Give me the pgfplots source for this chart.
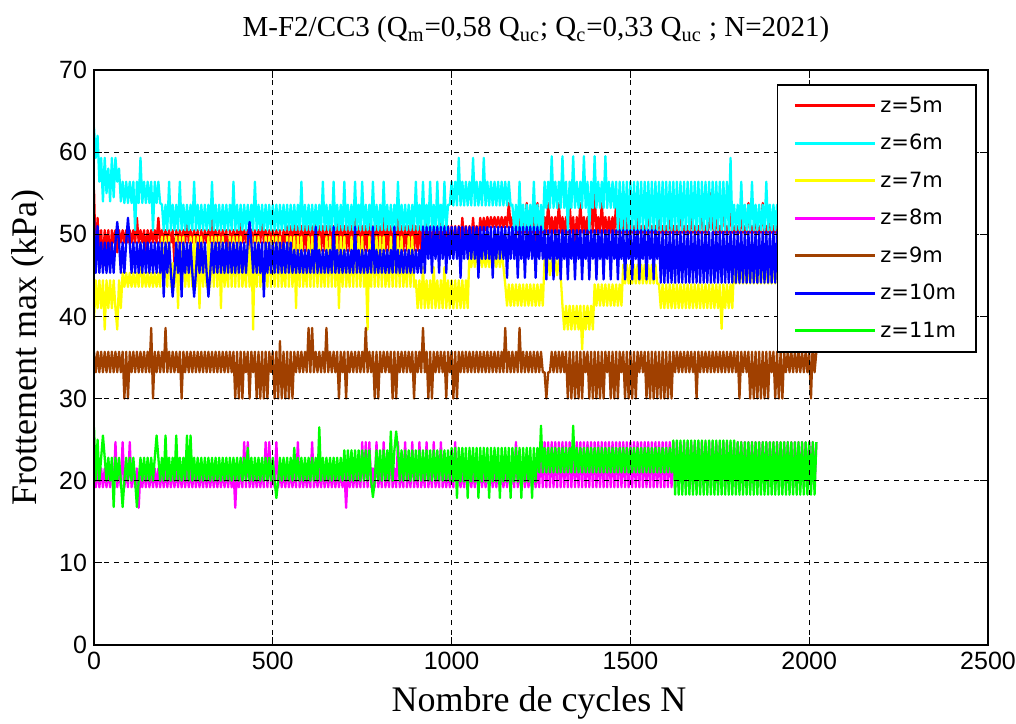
\documentclass[border=0pt]{standalone}
\usepackage{fontspec}
\setmainfont{Liberation Serif}
\newfontfamily\sansf{Liberation Sans}
\newfontfamily\legf{DejaVu Sans}
\usepackage{pgfplots}
\pgfplotsset{compat=1.18}
\definecolor{mbrown}{RGB}{160,64,0}
\definecolor{mred}{RGB}{255,0,0}
\definecolor{mcyan}{RGB}{0,255,255}
\definecolor{myellow}{RGB}{255,255,0}
\definecolor{mmagenta}{RGB}{255,0,255}
\definecolor{mblue}{RGB}{0,0,255}
\definecolor{mgreen}{RGB}{0,255,0}
\begin{document}
\begin{tikzpicture}
\begin{axis}[
 scale only axis, width=447pt, height=287.5pt,
 xmin=0, xmax=2500, ymin=0, ymax=70,
 xtick={0,500,...,2500}, ytick={0,10,...,70},
 grid=major, major grid style={black, dash pattern=on 2.5pt off 2.5pt, line width=0.55pt},
 axis on top,
 axis line style={line width=0.6pt},
 tick style={black, line width=0.6pt}, major tick length=4pt,
 tick label style={font=\sansf\fontsize{12.5}{15}\selectfont},
 /pgf/number format/assume math mode=true,
 /pgf/number format/1000 sep={},
 legend style={at={(1,1)}, anchor=north east, xshift=-5.5pt, yshift=-7pt, draw=black, line width=0.8pt, fill=white, font=\legf\fontsize{10.5}{12}\selectfont, row sep=5.5pt, inner xsep=8pt, inner ysep=4pt},
 legend cell align=left,
 legend image code/.code={\draw[#1, line width=1.5pt] (0pt,0pt) -- (40pt,0pt);},
 every axis plot/.append style={line width=1.15pt, line join=round},
]
\coordinate (ll) at (rel axis cs:0,0);
\coordinate (ur) at (rel axis cs:1,1);
\coordinate (tt) at (rel axis cs:0.5,1);
\coordinate (bb) at (rel axis cs:0.5,0);
\coordinate (lm) at (rel axis cs:0,0.517);
% z=5m
\addplot[mred] table[header=false, row sep=\\, x expr=\coordindex*5, y index=0]{
55.4\\ 46.5\\ 52.0\\ 47.0\\ 50.5\\ 46.0\\ 50.5\\ 47.8\\ 50.5\\ 46.5\\ 50.5\\ 49.0\\ 50.5\\ 47.8\\ 50.5\\ 49.0\\ 50.5\\ 49.0\\ 50.5\\ 49.0\\
50.5\\ 49.0\\ 50.5\\ 49.0\\ 52.0\\ 49.0\\ 50.5\\ 49.0\\ 50.5\\ 47.8\\ 50.5\\ 49.0\\ 50.5\\ 49.0\\ 50.5\\ 49.0\\ 52.0\\ 49.0\\ 50.5\\ 49.0\\
50.5\\ 49.0\\ 50.5\\ 49.0\\ 50.5\\ 46.5\\ 50.5\\ 49.0\\ 50.5\\ 49.0\\ 50.5\\ 49.0\\ 52.0\\ 49.0\\ 50.5\\ 49.0\\ 50.5\\ 49.0\\ 50.5\\ 47.8\\
50.5\\ 49.0\\ 50.5\\ 49.0\\ 50.5\\ 49.0\\ 52.0\\ 49.0\\ 50.5\\ 49.0\\ 50.5\\ 49.0\\ 50.5\\ 49.0\\ 50.5\\ 46.5\\ 50.5\\ 49.0\\ 50.5\\ 49.0\\
50.5\\ 49.0\\ 52.0\\ 49.0\\ 50.5\\ 49.0\\ 50.5\\ 47.8\\ 50.5\\ 49.0\\ 50.5\\ 49.0\\ 50.5\\ 49.0\\ 52.0\\ 49.0\\ 50.5\\ 49.0\\ 50.5\\ 49.0\\
50.5\\ 49.0\\ 50.5\\ 49.0\\ 50.5\\ 47.8\\ 50.5\\ 49.0\\ 51.0\\ 48.0\\ 51.0\\ 48.0\\ 52.0\\ 48.0\\ 51.0\\ 48.0\\ 51.0\\ 48.0\\ 51.0\\ 48.0\\
51.0\\ 48.0\\ 51.0\\ 48.0\\ 52.0\\ 48.0\\ 51.0\\ 48.0\\ 51.0\\ 48.0\\ 51.0\\ 46.5\\ 51.0\\ 48.0\\ 51.0\\ 48.0\\ 52.0\\ 48.0\\ 51.0\\ 48.0\\
51.0\\ 48.0\\ 51.0\\ 48.0\\ 51.0\\ 48.0\\ 52.0\\ 48.0\\ 51.0\\ 48.0\\ 51.0\\ 48.0\\ 51.0\\ 48.0\\ 53.0\\ 48.0\\ 51.0\\ 48.0\\ 51.0\\ 48.0\\
51.0\\ 48.0\\ 52.0\\ 48.0\\ 51.0\\ 48.0\\ 51.0\\ 48.0\\ 51.0\\ 48.0\\ 52.0\\ 48.0\\ 51.0\\ 48.0\\ 51.0\\ 48.0\\ 51.0\\ 48.0\\ 52.0\\ 48.0\\
51.0\\ 48.0\\ 51.0\\ 48.0\\ 51.0\\ 48.0\\ 52.0\\ 48.0\\ 51.0\\ 48.0\\ 51.0\\ 48.0\\ 51.0\\ 48.0\\ 52.0\\ 48.0\\ 51.0\\ 48.0\\ 51.0\\ 48.0\\
51.0\\ 48.0\\ 51.0\\ 48.0\\ 51.0\\ 49.0\\ 52.0\\ 49.0\\ 51.0\\ 49.0\\ 51.0\\ 49.0\\ 52.0\\ 49.0\\ 51.0\\ 49.0\\ 52.0\\ 50.5\\ 52.0\\ 50.5\\
52.1\\ 50.9\\ 52.1\\ 50.9\\ 52.1\\ 50.9\\ 52.1\\ 50.9\\ 52.1\\ 50.9\\ 52.1\\ 50.9\\ 53.8\\ 50.9\\ 52.1\\ 50.9\\ 52.1\\ 50.2\\ 53.8\\ 50.2\\
52.1\\ 50.2\\ 53.8\\ 50.2\\ 52.1\\ 50.2\\ 52.1\\ 48.0\\ 53.8\\ 50.2\\ 52.1\\ 50.2\\ 52.1\\ 50.2\\ 53.8\\ 50.2\\ 52.1\\ 50.2\\ 52.1\\ 50.2\\
53.8\\ 50.2\\ 52.1\\ 50.2\\ 52.1\\ 50.2\\ 53.8\\ 50.2\\ 52.1\\ 48.5\\ 52.1\\ 50.2\\ 53.8\\ 50.2\\ 52.1\\ 50.2\\ 52.1\\ 50.2\\ 53.8\\ 50.2\\
55.0\\ 50.2\\ 52.1\\ 50.2\\ 53.8\\ 50.2\\ 52.1\\ 50.2\\ 52.1\\ 50.2\\ 52.1\\ 50.2\\ 53.8\\ 50.2\\ 52.1\\ 50.2\\ 52.1\\ 50.2\\ 52.1\\ 50.2\\
51.0\\ 50.2\\ 51.0\\ 50.2\\ 52.1\\ 50.2\\ 51.0\\ 50.2\\ 51.0\\ 50.2\\ 53.8\\ 50.2\\ 51.0\\ 50.2\\ 51.0\\ 50.2\\ 52.1\\ 50.2\\ 51.0\\ 50.2\\
51.0\\ 50.2\\ 52.1\\ 50.2\\ 51.0\\ 50.2\\ 51.0\\ 50.2\\ 53.8\\ 50.2\\ 51.0\\ 50.2\\ 51.0\\ 50.2\\ 52.1\\ 50.2\\ 51.0\\ 50.2\\ 51.0\\ 50.2\\
53.8\\ 50.2\\ 51.0\\ 50.2\\ 51.0\\ 55.0\\ 51.0\\ 50.2\\ 52.1\\ 50.2\\ 51.0\\ 50.2\\ 55.0\\ 50.2\\ 51.0\\ 50.2\\ 53.8\\ 50.2\\ 51.0\\ 50.2\\
51.0\\ 50.2\\ 52.1\\ 50.2\\ 51.0\\ 50.2\\ 53.8\\ 50.2\\ 51.0\\ 50.2\\ 52.1\\ 50.2\\ 51.0\\ 50.2\\ 53.8\\ 50.2\\ 51.0\\ 50.2\\ 52.1\\ 50.2\\
51.0\\ 50.2\\ 51.0\\ 50.2\\ 52.1\\ 50.2\\ 51.0\\ 50.2\\ 51.0\\ 50.2\\ 51.0\\ 50.2\\ 52.1\\ 50.2\\ 51.0\\ 50.2\\ 51.0\\ 50.2\\ 51.0\\ 50.2\\
51.0\\ 50.2\\ 51.0\\ 50.2\\ 51.0\\
};
\addlegendentry{z=5m}
% z=6m
\addplot[mcyan] table[header=false, row sep=\\, x expr=\coordindex*5, y index=0]{
63.0\\ 59.3\\ 62.0\\ 56.4\\ 59.3\\ 54.0\\ 59.3\\ 55.0\\ 58.0\\ 54.0\\ 59.3\\ 54.5\\ 59.3\\ 56.4\\ 58.0\\ 54.0\\ 56.4\\ 53.8\\ 56.4\\ 53.8\\
56.4\\ 53.8\\ 56.4\\ 50.5\\ 56.4\\ 53.8\\ 59.3\\ 53.8\\ 56.4\\ 53.8\\ 56.4\\ 53.8\\ 56.4\\ 50.5\\ 56.4\\ 53.8\\ 56.4\\ 53.8\\ 53.6\\ 50.5\\
53.6\\ 50.5\\ 56.4\\ 50.5\\ 53.6\\ 50.5\\ 53.6\\ 50.5\\ 56.4\\ 50.5\\ 53.6\\ 50.5\\ 53.6\\ 50.5\\ 53.6\\ 50.5\\ 56.4\\ 50.5\\ 53.6\\ 50.5\\
53.6\\ 50.5\\ 53.6\\ 50.5\\ 53.6\\ 50.5\\ 56.4\\ 50.5\\ 53.6\\ 50.5\\ 53.6\\ 50.5\\ 53.6\\ 50.5\\ 53.6\\ 50.5\\ 53.6\\ 50.5\\ 56.4\\ 50.5\\
53.6\\ 50.5\\ 53.6\\ 50.5\\ 53.6\\ 50.5\\ 53.6\\ 50.5\\ 53.6\\ 50.5\\ 56.4\\ 50.5\\ 53.6\\ 50.5\\ 53.6\\ 50.5\\ 53.6\\ 50.5\\ 53.6\\ 50.5\\
53.6\\ 50.5\\ 53.6\\ 50.5\\ 53.6\\ 50.5\\ 53.6\\ 50.5\\ 53.6\\ 50.5\\ 53.6\\ 50.5\\ 53.6\\ 50.5\\ 53.6\\ 50.5\\ 56.4\\ 50.5\\ 53.6\\ 50.5\\
53.6\\ 50.5\\ 53.6\\ 50.5\\ 53.6\\ 50.5\\ 53.6\\ 50.5\\ 56.4\\ 50.5\\ 53.6\\ 50.5\\ 53.6\\ 50.5\\ 56.4\\ 50.5\\ 53.6\\ 50.5\\ 53.6\\ 50.5\\
56.4\\ 50.5\\ 53.6\\ 50.5\\ 53.6\\ 50.5\\ 56.4\\ 50.5\\ 53.6\\ 50.5\\ 56.4\\ 50.5\\ 53.6\\ 50.5\\ 53.6\\ 50.5\\ 56.4\\ 50.5\\ 53.6\\ 50.5\\
53.6\\ 50.5\\ 56.4\\ 50.5\\ 53.6\\ 50.5\\ 53.6\\ 50.5\\ 53.6\\ 50.5\\ 56.4\\ 50.5\\ 53.6\\ 50.5\\ 53.6\\ 50.5\\ 53.6\\ 50.5\\ 53.6\\ 50.5\\
56.4\\ 50.5\\ 53.6\\ 50.5\\ 56.4\\ 50.5\\ 53.6\\ 50.5\\ 56.4\\ 50.5\\ 53.6\\ 50.5\\ 56.4\\ 50.5\\ 53.6\\ 50.5\\ 56.4\\ 50.5\\ 53.6\\ 53.6\\
56.4\\ 53.5\\ 56.4\\ 53.5\\ 59.3\\ 53.5\\ 56.4\\ 53.5\\ 56.4\\ 53.5\\ 56.4\\ 53.5\\ 59.3\\ 53.5\\ 56.4\\ 53.5\\ 56.4\\ 53.5\\ 59.3\\ 53.5\\
56.4\\ 53.5\\ 56.4\\ 53.5\\ 56.4\\ 53.5\\ 56.4\\ 53.5\\ 56.4\\ 53.5\\ 56.4\\ 53.5\\ 56.4\\ 53.5\\ 53.6\\ 50.5\\ 53.6\\ 50.5\\ 56.4\\ 50.5\\
53.6\\ 50.5\\ 53.6\\ 50.5\\ 53.6\\ 50.5\\ 56.4\\ 50.5\\ 53.6\\ 50.5\\ 53.6\\ 50.5\\ 56.4\\ 53.2\\ 56.4\\ 53.2\\ 59.5\\ 53.2\\ 56.4\\ 53.2\\
56.4\\ 53.2\\ 59.5\\ 53.2\\ 56.4\\ 50.5\\ 56.4\\ 53.2\\ 59.5\\ 53.2\\ 56.4\\ 53.2\\ 56.4\\ 53.2\\ 59.5\\ 53.2\\ 56.4\\ 50.5\\ 56.4\\ 53.2\\
59.5\\ 53.2\\ 56.4\\ 53.2\\ 56.4\\ 53.2\\ 59.5\\ 53.2\\ 56.4\\ 53.2\\ 56.4\\ 53.2\\ 56.4\\ 50.5\\ 56.4\\ 50.5\\ 56.4\\ 50.5\\ 56.4\\ 50.5\\
56.4\\ 50.5\\ 56.4\\ 50.5\\ 56.4\\ 50.5\\ 56.4\\ 50.5\\ 56.4\\ 50.5\\ 56.4\\ 50.5\\ 56.4\\ 50.5\\ 56.4\\ 50.5\\ 56.4\\ 50.5\\ 56.4\\ 50.5\\
56.4\\ 50.5\\ 56.4\\ 50.5\\ 56.4\\ 50.5\\ 56.4\\ 50.5\\ 56.4\\ 50.5\\ 56.4\\ 50.5\\ 56.4\\ 50.5\\ 56.4\\ 50.5\\ 56.4\\ 50.5\\ 56.4\\ 50.5\\
56.4\\ 50.5\\ 56.4\\ 50.5\\ 56.4\\ 50.5\\ 56.4\\ 50.5\\ 56.4\\ 50.5\\ 56.4\\ 50.5\\ 56.4\\ 50.5\\ 56.4\\ 50.5\\ 59.3\\ 50.5\\ 53.6\\ 50.5\\
53.6\\ 50.5\\ 56.4\\ 50.5\\ 53.6\\ 50.5\\ 53.6\\ 50.5\\ 56.4\\ 50.5\\ 53.6\\ 50.5\\ 53.6\\ 50.5\\ 53.6\\ 50.5\\ 56.4\\ 50.5\\ 53.6\\ 50.5\\
53.6\\ 50.5\\ 53.6\\ 50.5\\ 56.4\\ 50.5\\ 53.6\\ 50.5\\ 53.6\\ 50.5\\ 53.6\\ 50.5\\ 53.6\\ 50.5\\ 53.6\\ 50.5\\ 53.6\\ 50.5\\ 53.6\\ 50.5\\
53.6\\ 50.5\\ 53.6\\ 50.5\\ 53.6\\
};
\addlegendentry{z=6m}
% z=7m
\addplot[myellow] table[header=false, row sep=\\, x expr=\coordindex*5, y index=0]{
39.5\\ 44.4\\ 41.0\\ 44.4\\ 41.0\\ 44.4\\ 38.4\\ 44.4\\ 41.0\\ 44.4\\ 41.0\\ 44.4\\ 41.0\\ 38.4\\ 44.4\\ 41.0\\ 45.3\\ 43.6\\ 45.3\\ 43.6\\
45.3\\ 43.6\\ 45.3\\ 43.6\\ 45.3\\ 43.6\\ 49.0\\ 43.6\\ 45.3\\ 43.6\\ 45.3\\ 43.6\\ 45.3\\ 43.6\\ 45.3\\ 43.6\\ 45.3\\ 43.6\\ 49.7\\ 43.6\\
49.7\\ 43.6\\ 49.7\\ 43.6\\ 46.5\\ 43.6\\ 49.7\\ 41.0\\ 49.7\\ 43.6\\ 49.7\\ 43.6\\ 46.5\\ 43.6\\ 49.7\\ 43.6\\ 49.7\\ 43.6\\ 49.7\\ 41.0\\
49.7\\ 43.6\\ 46.5\\ 43.6\\ 49.7\\ 43.6\\ 49.7\\ 43.6\\ 49.7\\ 43.6\\ 49.7\\ 41.0\\ 49.7\\ 43.6\\ 46.5\\ 43.6\\ 49.7\\ 43.6\\ 49.7\\ 43.6\\
49.7\\ 43.6\\ 49.7\\ 43.6\\ 46.5\\ 43.6\\ 49.7\\ 43.6\\ 49.7\\ 38.4\\ 49.7\\ 43.6\\ 49.7\\ 43.6\\ 46.5\\ 43.6\\ 49.7\\ 43.6\\ 49.7\\ 43.6\\
49.7\\ 43.6\\ 49.7\\ 43.6\\ 49.7\\ 43.6\\ 46.5\\ 43.6\\ 49.7\\ 43.6\\ 49.7\\ 43.6\\ 49.7\\ 41.0\\ 49.7\\ 43.6\\ 49.7\\ 43.6\\ 46.5\\ 43.6\\
49.7\\ 43.6\\ 49.7\\ 43.6\\ 49.7\\ 43.6\\ 49.7\\ 43.6\\ 46.5\\ 43.6\\ 49.7\\ 43.6\\ 49.7\\ 43.6\\ 49.7\\ 43.6\\ 49.7\\ 41.0\\ 49.7\\ 43.6\\
49.7\\ 43.6\\ 46.5\\ 43.6\\ 49.7\\ 43.6\\ 49.7\\ 43.6\\ 49.7\\ 43.6\\ 49.7\\ 43.6\\ 46.5\\ 38.4\\ 49.7\\ 43.6\\ 49.7\\ 43.6\\ 49.7\\ 43.6\\
49.7\\ 43.6\\ 49.7\\ 43.6\\ 46.5\\ 43.6\\ 49.7\\ 43.6\\ 49.7\\ 43.6\\ 49.7\\ 43.6\\ 49.7\\ 43.6\\ 46.5\\ 43.6\\ 49.7\\ 43.6\\ 49.7\\ 43.6\\
44.4\\ 41.0\\ 44.4\\ 41.0\\ 46.0\\ 41.0\\ 44.4\\ 41.0\\ 44.4\\ 41.0\\ 46.0\\ 41.0\\ 44.4\\ 41.0\\ 44.4\\ 41.0\\ 46.0\\ 41.0\\ 44.4\\ 41.0\\
44.4\\ 41.0\\ 44.4\\ 41.0\\ 44.4\\ 41.0\\ 44.4\\ 41.0\\ 44.4\\ 41.0\\ 48.0\\ 46.0\\ 48.0\\ 46.0\\ 48.0\\ 46.0\\ 48.0\\ 46.0\\ 48.0\\ 46.0\\
48.0\\ 46.0\\ 48.0\\ 46.0\\ 48.0\\ 46.0\\ 48.0\\ 46.0\\ 48.0\\ 46.0\\ 43.9\\ 41.3\\ 43.9\\ 41.3\\ 43.9\\ 41.3\\ 43.9\\ 41.3\\ 43.9\\ 41.3\\
43.9\\ 41.3\\ 43.9\\ 41.3\\ 43.9\\ 41.3\\ 43.9\\ 41.3\\ 43.9\\ 41.3\\ 43.9\\ 41.3\\ 47.0\\ 45.0\\ 47.0\\ 45.0\\ 47.0\\ 45.0\\ 47.0\\ 45.0\\
47.0\\ 45.0\\ 41.3\\ 38.4\\ 41.3\\ 38.4\\ 41.3\\ 38.4\\ 41.3\\ 38.4\\ 41.3\\ 38.4\\ 41.3\\ 36.0\\ 41.3\\ 38.4\\ 41.3\\ 38.4\\ 41.3\\ 38.4\\
43.9\\ 41.3\\ 43.9\\ 41.3\\ 43.9\\ 41.3\\ 43.9\\ 41.3\\ 43.9\\ 41.3\\ 43.9\\ 41.3\\ 43.9\\ 41.3\\ 43.9\\ 41.3\\ 46.3\\ 44.0\\ 46.3\\ 44.0\\
46.3\\ 44.0\\ 46.3\\ 44.0\\ 46.3\\ 44.0\\ 46.3\\ 44.0\\ 46.3\\ 44.0\\ 46.3\\ 44.0\\ 46.3\\ 44.0\\ 46.3\\ 44.0\\ 43.9\\ 41.0\\ 43.9\\ 41.0\\
43.9\\ 41.0\\ 43.9\\ 41.0\\ 43.9\\ 41.0\\ 43.9\\ 41.0\\ 43.9\\ 41.0\\ 43.9\\ 41.0\\ 43.9\\ 41.0\\ 43.9\\ 41.0\\ 43.9\\ 41.0\\ 43.9\\ 41.0\\
43.9\\ 41.0\\ 43.9\\ 41.0\\ 43.9\\ 41.0\\ 43.9\\ 41.0\\ 43.9\\ 41.0\\ 43.9\\ 38.5\\ 43.9\\ 41.0\\ 43.9\\ 41.0\\ 43.9\\ 41.0\\ 46.3\\ 44.0\\
46.3\\ 44.0\\ 46.3\\ 44.0\\ 46.3\\ 44.0\\ 46.3\\ 44.0\\ 46.3\\ 44.0\\ 46.3\\ 44.0\\ 46.3\\ 44.0\\ 46.3\\ 44.0\\ 46.3\\ 44.0\\ 46.3\\ 44.0\\
46.3\\ 44.0\\ 46.3\\ 44.0\\ 46.3\\ 44.0\\ 46.3\\ 44.0\\ 46.3\\ 44.0\\ 46.3\\ 44.0\\ 46.3\\ 44.0\\ 46.3\\ 44.0\\ 46.3\\ 44.0\\ 46.3\\ 44.0\\
46.3\\ 44.0\\ 46.3\\ 44.0\\ 46.3\\
};
\addlegendentry{z=7m}
% z=8m
\addplot[mmagenta] table[header=false, row sep=\\, x expr=\coordindex*5, y index=0]{
24.7\\ 19.2\\ 21.5\\ 19.2\\ 21.5\\ 19.2\\ 21.5\\ 19.2\\ 21.5\\ 19.2\\ 21.5\\ 19.2\\ 24.7\\ 19.2\\ 21.5\\ 19.2\\ 24.7\\ 19.2\\ 21.5\\ 19.2\\
24.7\\ 19.2\\ 21.5\\ 19.2\\ 21.5\\ 16.7\\ 21.5\\ 19.2\\ 21.5\\ 19.2\\ 21.5\\ 19.2\\ 21.5\\ 19.2\\ 21.5\\ 19.2\\ 21.5\\ 19.2\\ 21.5\\ 19.2\\
21.5\\ 19.2\\ 21.5\\ 19.2\\ 21.5\\ 19.2\\ 21.5\\ 19.2\\ 21.5\\ 19.2\\ 21.5\\ 19.2\\ 21.5\\ 19.2\\ 21.5\\ 19.2\\ 21.5\\ 19.2\\ 21.5\\ 19.2\\
21.5\\ 19.2\\ 21.5\\ 19.2\\ 21.5\\ 19.2\\ 21.5\\ 19.2\\ 21.5\\ 19.2\\ 21.5\\ 19.2\\ 21.5\\ 19.2\\ 21.5\\ 19.2\\ 21.5\\ 19.2\\ 21.5\\ 16.7\\
21.5\\ 19.2\\ 21.5\\ 19.2\\ 24.7\\ 19.2\\ 24.7\\ 19.2\\ 21.5\\ 19.2\\ 21.5\\ 19.2\\ 21.5\\ 19.2\\ 21.5\\ 19.2\\ 24.7\\ 19.2\\ 24.7\\ 19.2\\
21.5\\ 19.2\\ 24.7\\ 19.2\\ 21.5\\ 19.2\\ 21.5\\ 19.2\\ 21.5\\ 19.2\\ 21.5\\ 19.2\\ 21.5\\ 19.2\\ 24.7\\ 19.2\\ 21.5\\ 19.2\\ 21.5\\ 19.2\\
21.5\\ 19.2\\ 24.7\\ 19.2\\ 21.5\\ 19.2\\ 21.5\\ 19.2\\ 21.5\\ 19.2\\ 21.5\\ 19.2\\ 21.5\\ 19.2\\ 21.5\\ 19.2\\ 21.5\\ 19.2\\ 21.5\\ 19.2\\
21.5\\ 16.7\\ 21.5\\ 19.2\\ 21.5\\ 19.2\\ 21.5\\ 19.2\\ 21.5\\ 19.2\\ 24.7\\ 19.2\\ 24.7\\ 19.2\\ 24.7\\ 19.2\\ 21.5\\ 19.2\\ 24.7\\ 19.2\\
21.5\\ 19.2\\ 24.7\\ 19.2\\ 21.5\\ 19.2\\ 24.7\\ 19.2\\ 21.5\\ 19.2\\ 24.7\\ 19.2\\ 21.5\\ 19.2\\ 24.7\\ 19.2\\ 21.5\\ 19.2\\ 24.7\\ 19.2\\
21.5\\ 19.2\\ 24.7\\ 19.2\\ 21.5\\ 19.2\\ 24.7\\ 19.2\\ 21.5\\ 19.2\\ 24.7\\ 19.2\\ 21.5\\ 19.2\\ 24.7\\ 19.2\\ 21.5\\ 19.2\\ 21.5\\ 19.2\\
21.5\\ 19.2\\ 24.7\\ 19.2\\ 21.5\\ 19.2\\ 21.5\\ 19.2\\ 21.5\\ 19.2\\ 21.5\\ 19.2\\ 21.5\\ 19.2\\ 21.5\\ 19.2\\ 21.5\\ 19.2\\ 21.5\\ 19.2\\
21.5\\ 19.2\\ 21.5\\ 19.2\\ 21.5\\ 19.2\\ 21.5\\ 19.2\\ 21.5\\ 19.2\\ 21.5\\ 19.2\\ 21.5\\ 19.2\\ 21.5\\ 19.2\\ 24.7\\ 19.2\\ 21.5\\ 19.2\\
21.5\\ 19.2\\ 21.5\\ 19.2\\ 21.5\\ 19.2\\ 21.5\\ 19.2\\ 21.5\\ 19.2\\ 24.7\\ 19.2\\ 24.7\\ 19.2\\ 24.7\\ 19.2\\ 24.7\\ 19.2\\ 24.7\\ 19.2\\
24.7\\ 19.2\\ 24.7\\ 19.2\\ 24.7\\ 19.2\\ 24.7\\ 19.2\\ 24.7\\ 19.2\\ 24.7\\ 19.2\\ 24.7\\ 19.2\\ 24.7\\ 19.2\\ 24.7\\ 19.2\\ 24.7\\ 19.2\\
24.7\\ 19.2\\ 24.7\\ 19.2\\ 24.7\\ 19.2\\ 24.7\\ 19.2\\ 24.7\\ 19.2\\ 24.7\\ 19.2\\ 24.7\\ 19.2\\ 24.7\\ 19.2\\ 24.7\\ 19.2\\ 24.7\\ 19.2\\
24.7\\ 19.2\\ 24.7\\ 19.2\\ 24.7\\ 19.2\\ 24.7\\ 19.2\\ 24.7\\ 19.2\\ 24.7\\ 19.2\\ 24.7\\ 19.2\\ 24.7\\ 19.2\\ 24.7\\ 19.2\\ 24.7\\ 19.2\\
24.7\\ 19.2\\ 24.7\\ 19.2\\ 24.7\\ 19.2\\ 24.7\\ 19.2\\ 24.7\\ 19.2\\ 24.7\\ 19.2\\ 24.7\\ 19.2\\ 24.7\\ 19.2\\ 24.7\\ 19.2\\ 24.7\\ 19.2\\
24.7\\ 19.2\\ 24.7\\ 19.2\\ 24.7\\ 19.2\\ 24.7\\ 19.2\\ 24.7\\ 19.2\\ 24.7\\ 19.2\\ 24.7\\ 19.2\\ 24.7\\ 19.2\\ 24.7\\ 19.2\\ 24.7\\ 19.2\\
24.7\\ 19.2\\ 24.7\\ 19.2\\ 24.7\\ 19.2\\ 24.7\\ 19.2\\ 24.7\\ 19.2\\ 24.7\\ 19.2\\ 24.7\\ 19.2\\ 24.7\\ 19.2\\ 24.7\\ 19.2\\ 24.7\\ 19.2\\
24.7\\ 19.2\\ 24.7\\ 19.2\\ 24.7\\ 19.2\\ 24.7\\ 19.2\\ 24.7\\ 19.2\\ 24.7\\ 19.2\\ 24.7\\ 19.2\\ 24.7\\ 19.2\\ 24.7\\ 19.2\\ 24.7\\ 19.2\\
24.7\\ 19.2\\ 24.7\\ 19.2\\ 24.7\\
};
\addlegendentry{z=8m}
% z=9m
\addplot[mbrown] table[header=false, row sep=\\, x expr=\coordindex*5, y index=0]{
35.7\\ 33.2\\ 35.7\\ 33.2\\ 35.7\\ 33.2\\ 35.7\\ 33.2\\ 35.7\\ 33.2\\ 35.7\\ 33.2\\ 35.7\\ 33.2\\ 35.7\\ 33.2\\ 35.7\\ 30.0\\ 35.7\\ 30.0\\
35.7\\ 33.2\\ 35.7\\ 33.2\\ 35.7\\ 33.2\\ 35.7\\ 33.2\\ 35.7\\ 33.2\\ 35.7\\ 33.2\\ 38.6\\ 30.0\\ 35.7\\ 33.2\\ 35.7\\ 33.2\\ 35.7\\ 33.2\\
38.6\\ 33.2\\ 35.7\\ 33.2\\ 35.7\\ 33.2\\ 35.7\\ 33.2\\ 35.7\\ 30.0\\ 35.7\\ 33.2\\ 35.7\\ 33.2\\ 35.7\\ 33.2\\ 35.7\\ 33.2\\ 35.7\\ 33.2\\
35.7\\ 33.2\\ 35.7\\ 33.2\\ 35.7\\ 33.2\\ 35.7\\ 33.2\\ 35.7\\ 33.2\\ 35.7\\ 33.2\\ 35.7\\ 33.2\\ 35.7\\ 33.2\\ 35.7\\ 33.2\\ 35.7\\ 30.0\\
35.7\\ 30.0\\ 35.7\\ 30.0\\ 35.7\\ 33.2\\ 35.7\\ 30.0\\ 35.7\\ 33.2\\ 35.7\\ 30.0\\ 35.7\\ 30.0\\ 35.7\\ 30.0\\ 35.7\\ 30.0\\ 35.7\\ 33.2\\
35.7\\ 30.0\\ 35.7\\ 30.0\\ 37.0\\ 30.0\\ 35.7\\ 30.0\\ 35.7\\ 30.0\\ 35.7\\ 30.0\\ 35.7\\ 33.2\\ 35.7\\ 33.2\\ 35.7\\ 33.2\\ 35.7\\ 33.2\\
38.6\\ 33.2\\ 38.6\\ 33.2\\ 35.7\\ 33.2\\ 35.7\\ 33.2\\ 35.7\\ 33.2\\ 38.6\\ 33.2\\ 35.7\\ 33.2\\ 35.7\\ 33.2\\ 35.7\\ 30.0\\ 35.7\\ 33.2\\
35.7\\ 30.0\\ 35.7\\ 33.2\\ 35.7\\ 33.2\\ 35.7\\ 33.2\\ 35.7\\ 33.2\\ 35.7\\ 33.2\\ 38.6\\ 33.2\\ 35.7\\ 33.2\\ 35.7\\ 30.0\\ 35.7\\ 30.0\\
35.7\\ 33.2\\ 35.7\\ 33.2\\ 35.7\\ 33.2\\ 35.7\\ 30.0\\ 35.7\\ 30.0\\ 35.7\\ 33.2\\ 35.7\\ 33.2\\ 35.7\\ 33.2\\ 35.7\\ 33.2\\ 35.7\\ 30.0\\
35.7\\ 33.2\\ 35.7\\ 33.2\\ 38.6\\ 33.2\\ 35.7\\ 30.0\\ 35.7\\ 30.0\\ 35.7\\ 33.2\\ 35.7\\ 33.2\\ 35.7\\ 33.2\\ 35.7\\ 30.0\\ 35.7\\ 33.2\\
35.7\\ 30.0\\ 35.7\\ 30.0\\ 35.7\\ 33.2\\ 35.7\\ 33.2\\ 35.7\\ 33.2\\ 35.7\\ 33.2\\ 35.7\\ 33.2\\ 35.7\\ 33.2\\ 35.7\\ 33.2\\ 35.7\\ 33.2\\
35.7\\ 33.2\\ 35.7\\ 33.2\\ 35.7\\ 33.2\\ 35.7\\ 33.2\\ 35.7\\ 33.2\\ 38.6\\ 33.2\\ 35.7\\ 33.2\\ 35.7\\ 33.2\\ 35.7\\ 33.2\\ 38.6\\ 33.2\\
35.7\\ 33.2\\ 35.7\\ 33.2\\ 35.7\\ 33.2\\ 35.7\\ 33.2\\ 35.7\\ 33.2\\ 35.7\\ 33.2\\ 33.2\\ 30.0\\ 33.2\\ 33.2\\ 35.7\\ 33.2\\ 35.7\\ 33.2\\
35.7\\ 33.2\\ 35.7\\ 33.2\\ 35.7\\ 30.0\\ 35.7\\ 30.0\\ 35.7\\ 30.0\\ 35.7\\ 30.0\\ 35.7\\ 30.0\\ 35.7\\ 33.2\\ 35.7\\ 30.0\\ 35.7\\ 30.0\\
35.7\\ 30.0\\ 35.7\\ 30.0\\ 35.7\\ 30.0\\ 35.7\\ 33.2\\ 35.7\\ 30.0\\ 35.7\\ 30.0\\ 35.7\\ 30.0\\ 35.7\\ 33.2\\ 35.7\\ 30.0\\ 35.7\\ 30.0\\
35.7\\ 30.0\\ 35.7\\ 30.0\\ 35.7\\ 33.2\\ 35.7\\ 33.2\\ 35.7\\ 30.0\\ 35.7\\ 30.0\\ 35.7\\ 30.0\\ 35.7\\ 30.0\\ 35.7\\ 30.0\\ 35.7\\ 30.0\\
35.7\\ 30.0\\ 35.7\\ 30.0\\ 35.7\\ 33.2\\ 35.7\\ 33.2\\ 35.7\\ 33.2\\ 35.7\\ 33.2\\ 35.7\\ 33.2\\ 35.7\\ 33.2\\ 35.7\\ 30.0\\ 35.7\\ 33.2\\
35.7\\ 33.2\\ 35.7\\ 33.2\\ 35.7\\ 33.2\\ 35.7\\ 33.2\\ 35.7\\ 33.2\\ 35.7\\ 33.2\\ 35.7\\ 33.2\\ 35.7\\ 33.2\\ 35.7\\ 33.2\\ 35.7\\ 33.2\\
35.7\\ 30.0\\ 35.7\\ 33.2\\ 35.7\\ 33.2\\ 35.7\\ 30.0\\ 35.7\\ 30.0\\ 35.7\\ 30.0\\ 35.7\\ 30.0\\ 35.7\\ 30.0\\ 35.7\\ 30.0\\ 35.7\\ 33.2\\
35.7\\ 30.0\\ 35.7\\ 30.0\\ 35.7\\ 30.0\\ 35.7\\ 33.2\\ 35.7\\ 33.2\\ 35.7\\ 33.2\\ 35.7\\ 33.2\\ 35.7\\ 33.2\\ 35.7\\ 33.2\\ 35.7\\ 33.2\\
35.7\\ 30.0\\ 37.0\\ 33.2\\ 35.7\\
};
\addlegendentry{z=9m}
% z=10m
\addplot[mblue] table[header=false, row sep=\\, x expr=\coordindex*5, y index=0]{
52.0\\ 45.3\\ 51.0\\ 45.3\\ 49.0\\ 45.3\\ 49.0\\ 45.3\\ 49.0\\ 45.3\\ 49.0\\ 45.3\\ 49.0\\ 51.5\\ 49.0\\ 45.3\\ 49.0\\ 45.3\\ 49.0\\ 52.0\\
49.0\\ 45.3\\ 49.0\\ 45.3\\ 49.0\\ 45.3\\ 49.0\\ 45.3\\ 49.0\\ 45.3\\ 49.0\\ 45.3\\ 49.0\\ 45.3\\ 49.0\\ 45.3\\ 49.0\\ 45.3\\ 49.0\\ 42.4\\
49.0\\ 45.3\\ 49.0\\ 45.3\\ 42.4\\ 45.3\\ 49.0\\ 45.3\\ 49.0\\ 42.4\\ 49.0\\ 45.3\\ 49.0\\ 45.3\\ 49.0\\ 45.3\\ 42.4\\ 45.3\\ 49.0\\ 45.3\\
49.0\\ 45.3\\ 49.0\\ 45.3\\ 42.4\\ 45.3\\ 49.0\\ 45.3\\ 49.0\\ 45.3\\ 49.0\\ 45.3\\ 49.0\\ 45.3\\ 49.0\\ 45.3\\ 49.0\\ 45.3\\ 49.0\\ 45.3\\
49.0\\ 45.3\\ 49.0\\ 45.3\\ 49.0\\ 45.3\\ 49.0\\ 51.5\\ 49.0\\ 45.3\\ 49.0\\ 45.3\\ 49.0\\ 45.3\\ 49.0\\ 42.4\\ 49.0\\ 45.3\\ 49.0\\ 45.3\\
49.0\\ 45.3\\ 49.0\\ 45.3\\ 49.0\\ 45.3\\ 49.0\\ 45.3\\ 49.0\\ 45.3\\ 49.0\\ 45.3\\ 48.1\\ 45.3\\ 48.1\\ 45.3\\ 48.1\\ 45.3\\ 48.1\\ 45.3\\
48.1\\ 45.3\\ 48.1\\ 45.3\\ 50.9\\ 45.3\\ 48.1\\ 45.3\\ 48.1\\ 45.3\\ 48.1\\ 45.3\\ 48.1\\ 45.3\\ 50.9\\ 45.3\\ 48.1\\ 45.3\\ 48.1\\ 45.3\\
48.1\\ 45.3\\ 48.1\\ 45.3\\ 48.1\\ 45.3\\ 50.9\\ 45.3\\ 48.1\\ 45.3\\ 48.1\\ 45.3\\ 48.1\\ 45.3\\ 48.1\\ 45.3\\ 50.9\\ 45.3\\ 48.1\\ 45.3\\
48.1\\ 45.3\\ 48.1\\ 45.3\\ 48.1\\ 45.3\\ 48.1\\ 45.3\\ 50.9\\ 45.3\\ 48.1\\ 45.3\\ 48.1\\ 45.3\\ 48.1\\ 45.3\\ 48.1\\ 45.3\\ 48.1\\ 45.3\\
48.1\\ 45.3\\ 48.1\\ 45.3\\ 50.9\\ 45.3\\ 50.9\\ 47.0\\ 50.9\\ 45.3\\ 50.9\\ 47.0\\ 50.9\\ 45.3\\ 50.9\\ 47.0\\ 50.9\\ 45.3\\ 50.9\\ 47.0\\
50.9\\ 47.0\\ 50.9\\ 47.0\\ 50.9\\ 44.7\\ 50.9\\ 47.0\\ 50.9\\ 47.0\\ 50.9\\ 47.0\\ 50.9\\ 47.0\\ 50.9\\ 44.7\\ 50.9\\ 47.0\\ 50.9\\ 47.0\\
50.9\\ 47.0\\ 50.9\\ 44.7\\ 50.9\\ 47.0\\ 50.9\\ 47.0\\ 50.9\\ 47.0\\ 50.9\\ 44.7\\ 50.9\\ 47.0\\ 50.9\\ 47.0\\ 50.9\\ 44.7\\ 50.9\\ 47.0\\
50.9\\ 44.7\\ 50.9\\ 47.0\\ 50.9\\ 47.0\\ 50.9\\ 44.7\\ 50.9\\ 47.0\\ 50.9\\ 47.0\\ 50.5\\ 44.5\\ 50.5\\ 47.0\\ 50.5\\ 44.5\\ 50.5\\ 47.0\\
50.5\\ 44.5\\ 50.5\\ 47.0\\ 50.5\\ 44.5\\ 50.5\\ 47.0\\ 50.5\\ 44.5\\ 50.5\\ 47.0\\ 50.5\\ 44.5\\ 50.5\\ 47.0\\ 50.5\\ 44.5\\ 50.5\\ 47.0\\
50.5\\ 44.5\\ 50.5\\ 47.0\\ 50.5\\ 44.5\\ 50.5\\ 47.0\\ 50.5\\ 44.5\\ 50.5\\ 47.0\\ 50.5\\ 44.5\\ 50.5\\ 47.0\\ 50.5\\ 44.5\\ 50.5\\ 47.0\\
50.5\\ 44.5\\ 50.5\\ 47.0\\ 50.5\\ 44.5\\ 50.5\\ 47.0\\ 50.5\\ 44.5\\ 50.5\\ 47.0\\ 50.5\\ 44.5\\ 50.5\\ 47.0\\ 50.3\\ 44.1\\ 50.3\\ 44.1\\
50.3\\ 44.1\\ 50.3\\ 44.1\\ 50.3\\ 44.1\\ 50.3\\ 44.1\\ 50.3\\ 44.1\\ 50.3\\ 44.1\\ 50.3\\ 44.1\\ 50.3\\ 44.1\\ 50.3\\ 44.1\\ 50.3\\ 44.1\\
50.3\\ 44.1\\ 50.3\\ 44.1\\ 50.3\\ 44.1\\ 50.3\\ 44.1\\ 50.3\\ 44.1\\ 50.3\\ 44.1\\ 50.3\\ 44.1\\ 50.3\\ 44.1\\ 50.3\\ 44.1\\ 50.3\\ 44.1\\
50.3\\ 44.1\\ 50.3\\ 44.1\\ 50.3\\ 44.1\\ 50.3\\ 44.1\\ 50.3\\ 44.1\\ 50.3\\ 44.1\\ 50.3\\ 44.1\\ 50.3\\ 44.1\\ 50.3\\ 44.1\\ 50.3\\ 44.1\\
50.3\\ 44.1\\ 50.3\\ 44.1\\ 50.3\\ 44.1\\ 50.3\\ 44.1\\ 50.3\\ 44.1\\ 50.3\\ 44.1\\ 50.3\\ 44.1\\ 50.3\\ 44.1\\ 50.3\\ 44.1\\ 50.3\\ 44.1\\
50.3\\ 44.1\\ 50.3\\ 44.1\\ 50.3\\
};
\addlegendentry{z=10m}
% z=11m
\addplot[mgreen] table[header=false, row sep=\\, x expr=\coordindex*5, y index=0]{
26.5\\ 20.0\\ 25.0\\ 20.0\\ 22.8\\ 25.5\\ 22.8\\ 20.0\\ 22.8\\ 20.0\\ 22.8\\ 16.8\\ 22.8\\ 20.0\\ 22.8\\ 20.0\\ 16.8\\ 20.0\\ 22.8\\ 20.0\\
22.8\\ 20.0\\ 22.8\\ 20.0\\ 16.8\\ 20.0\\ 22.8\\ 20.0\\ 22.8\\ 20.0\\ 22.8\\ 20.0\\ 22.8\\ 20.0\\ 22.8\\ 25.5\\ 22.8\\ 20.0\\ 22.8\\ 20.0\\
25.5\\ 20.0\\ 22.8\\ 20.0\\ 22.8\\ 20.0\\ 25.5\\ 20.0\\ 22.8\\ 20.0\\ 22.8\\ 20.0\\ 25.5\\ 20.0\\ 25.5\\ 20.0\\ 22.8\\ 20.0\\ 22.8\\ 20.0\\
22.8\\ 20.0\\ 22.8\\ 20.0\\ 22.8\\ 20.0\\ 22.8\\ 20.0\\ 22.8\\ 20.0\\ 22.8\\ 20.0\\ 22.8\\ 20.0\\ 22.8\\ 20.0\\ 22.8\\ 20.0\\ 22.8\\ 20.0\\
22.8\\ 20.0\\ 22.8\\ 20.0\\ 22.8\\ 20.0\\ 24.0\\ 20.0\\ 22.8\\ 20.0\\ 22.8\\ 20.0\\ 22.8\\ 20.0\\ 22.8\\ 20.0\\ 22.8\\ 20.0\\ 22.8\\ 20.0\\
22.8\\ 20.0\\ 17.9\\ 20.0\\ 22.8\\ 20.0\\ 22.8\\ 20.0\\ 22.8\\ 20.0\\ 22.8\\ 20.0\\ 24.0\\ 20.0\\ 22.8\\ 20.0\\ 22.8\\ 20.0\\ 22.8\\ 20.0\\
22.8\\ 20.0\\ 22.8\\ 20.0\\ 22.8\\ 20.0\\ 26.5\\ 20.0\\ 22.8\\ 20.0\\ 22.8\\ 20.0\\ 22.8\\ 20.0\\ 22.8\\ 20.0\\ 22.8\\ 20.0\\ 22.8\\ 20.0\\
23.7\\ 20.0\\ 23.7\\ 20.0\\ 23.7\\ 20.0\\ 23.7\\ 20.0\\ 23.7\\ 20.0\\ 23.7\\ 20.0\\ 23.7\\ 20.0\\ 23.7\\ 20.0\\ 18.0\\ 20.0\\ 23.7\\ 20.0\\
23.7\\ 20.0\\ 23.7\\ 20.0\\ 23.7\\ 20.0\\ 26.0\\ 20.0\\ 23.7\\ 26.0\\ 23.7\\ 20.0\\ 23.7\\ 20.0\\ 23.7\\ 20.0\\ 23.7\\ 20.0\\ 23.7\\ 20.0\\
23.7\\ 20.0\\ 23.7\\ 20.0\\ 23.7\\ 20.0\\ 23.7\\ 20.0\\ 23.7\\ 20.0\\ 23.7\\ 20.0\\ 23.7\\ 20.0\\ 23.7\\ 20.0\\ 23.7\\ 20.0\\ 23.7\\ 20.0\\
24.0\\ 19.9\\ 24.0\\ 17.9\\ 24.0\\ 19.9\\ 24.0\\ 19.9\\ 24.0\\ 17.9\\ 24.0\\ 19.9\\ 24.0\\ 19.9\\ 24.0\\ 17.9\\ 24.0\\ 19.9\\ 24.0\\ 19.9\\
24.0\\ 17.9\\ 24.0\\ 19.9\\ 24.0\\ 19.9\\ 24.0\\ 17.9\\ 24.0\\ 19.9\\ 24.0\\ 19.9\\ 24.0\\ 17.9\\ 24.0\\ 19.9\\ 24.0\\ 19.9\\ 24.0\\ 17.9\\
24.0\\ 19.9\\ 24.0\\ 19.9\\ 24.0\\ 17.9\\ 24.0\\ 19.9\\ 24.0\\ 21.0\\ 26.7\\ 21.0\\ 24.0\\ 21.0\\ 24.0\\ 21.0\\ 24.0\\ 21.0\\ 24.0\\ 21.0\\
24.0\\ 21.0\\ 24.0\\ 21.0\\ 24.0\\ 21.0\\ 24.0\\ 21.0\\ 26.7\\ 21.0\\ 24.0\\ 21.0\\ 24.0\\ 21.0\\ 24.0\\ 21.0\\ 24.0\\ 21.0\\ 24.0\\ 21.0\\
24.0\\ 21.0\\ 24.0\\ 21.0\\ 24.0\\ 21.0\\ 24.0\\ 21.0\\ 24.0\\ 21.0\\ 24.0\\ 21.0\\ 24.0\\ 21.0\\ 24.0\\ 21.0\\ 24.0\\ 21.0\\ 24.0\\ 21.0\\
24.0\\ 21.0\\ 24.0\\ 21.0\\ 24.0\\ 21.0\\ 24.0\\ 21.0\\ 24.0\\ 21.0\\ 24.0\\ 21.0\\ 24.0\\ 21.0\\ 24.0\\ 21.0\\ 24.0\\ 21.0\\ 24.0\\ 21.0\\
24.0\\ 21.0\\ 24.0\\ 21.0\\ 24.9\\ 18.3\\ 24.9\\ 18.3\\ 24.9\\ 18.3\\ 24.9\\ 18.3\\ 24.9\\ 18.3\\ 24.9\\ 18.3\\ 24.9\\ 18.3\\ 24.9\\ 18.3\\
24.9\\ 18.3\\ 24.9\\ 18.3\\ 24.9\\ 18.3\\ 24.9\\ 18.3\\ 24.9\\ 18.3\\ 24.9\\ 18.3\\ 24.9\\ 18.3\\ 24.9\\ 18.3\\ 24.9\\ 18.3\\ 24.9\\ 18.3\\
24.7\\ 18.3\\ 24.7\\ 18.3\\ 24.7\\ 18.3\\ 24.7\\ 18.3\\ 24.7\\ 18.3\\ 24.7\\ 18.3\\ 24.7\\ 18.3\\ 24.7\\ 18.3\\ 24.7\\ 18.3\\ 24.7\\ 18.3\\
24.7\\ 18.3\\ 24.7\\ 18.3\\ 24.7\\ 18.3\\ 24.7\\ 18.3\\ 24.7\\ 18.3\\ 24.7\\ 18.3\\ 24.7\\ 18.3\\ 24.7\\ 18.3\\ 24.7\\ 18.3\\ 24.7\\ 18.3\\
24.7\\ 18.3\\ 24.7\\ 18.3\\ 24.7\\
};
\addlegendentry{z=11m}
\end{axis}
\node[anchor=base, font=\fontsize{14.5}{17}\selectfont] at ([shift={(-2.5pt,16.5pt)}]tt) {M-F2/CC3 (Q\textsubscript{m}=0,58 Q\textsubscript{uc}; Q\textsubscript{c}=0,33 Q\textsubscript{uc} ; N=2021)};
\node[anchor=base, font=\fontsize{18}{21}\selectfont] at ([shift={(-1pt,-33.5pt)}]bb) {Nombre de cycles N};
\node[anchor=base, rotate=90, font=\fontsize{18}{21}\selectfont] at ([shift={(-28.5pt,0pt)}]lm) {Frottement max (kPa)};
\pgfresetboundingbox
\path[use as bounding box] ([shift={(-47pt,-39.5pt)}]ll) rectangle ([shift={(14pt,35pt)}]ur);
\end{tikzpicture}
\end{document}
